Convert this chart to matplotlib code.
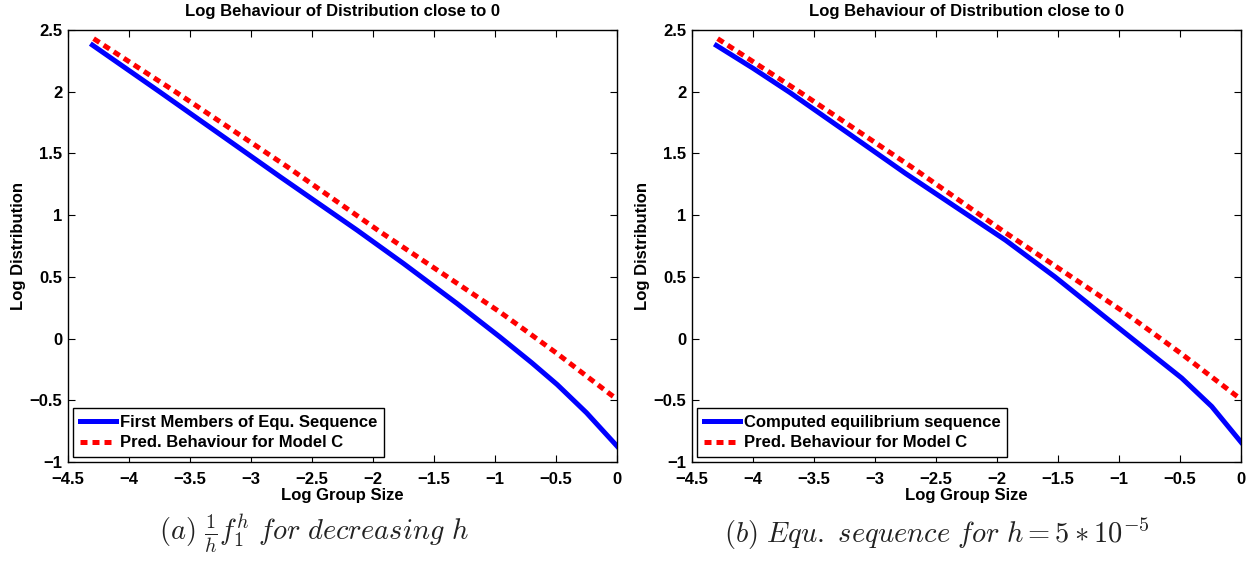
import matplotlib
matplotlib.use("Agg")
import matplotlib.pyplot as plt
from matplotlib.ticker import FuncFormatter

plt.rcParams["font.family"] = ["Liberation Sans", "DejaVu Sans"]
plt.rcParams["font.weight"] = "bold"
plt.rcParams["mathtext.fontset"] = "cm"

# values (log group size vs log distribution)
blue_a_x = [-4.30, -3.75, -3.20, -2.76, -2.13, -1.75, -1.31, -0.96, -0.70, -0.49, -0.25, 0.0]
blue_a_y = [2.378, 2.00, 1.617, 1.31, 0.878, 0.608, 0.283, 0.013, -0.195, -0.373, -0.601, -0.871]

blue_b_x = [-4.30, -4.00, -3.70, -3.20, -2.75, -1.93, -1.525, -1.115, -0.95, -0.486, -0.24, 0.0]
blue_b_y = [2.375, 2.19, 1.995, 1.65, 1.338, 0.797, 0.50, 0.175, 0.045, -0.32, -0.55, -0.839]

red_x = [-4.29, -3.62, -2.70, -1.94, -1.39, -0.96, -0.79, -0.49, -0.05, 0.0]
red_y = [2.43, 2.00, 1.39, 0.864, 0.50, 0.215, 0.094, -0.122, -0.455, -0.49]

panels = [
    (blue_a_x, blue_a_y, "First Members of Equ. Sequence",
     r"$(a)\ \frac{1}{h}f_1^h\ for\ decreasing\ h$", 314),
    (blue_b_x, blue_b_y, "Computed equilibrium sequence",
     r"$(b)\ Equ.\ sequence\ for\ h = 5*10^{-5}$", 937),
]

W, H = 1260, 563
fig = plt.figure(figsize=(W / 100, H / 100), dpi=100)
fmt = FuncFormatter(lambda v, p: ("%g" % v).replace("-", "\u2212"))

for i, (bx, by, blab, cap, capx) in enumerate(panels):
    left = (68 + i * 624) / W
    ax = fig.add_axes([left, 1 - 462 / H, 549 / W, 432 / H])
    ax.plot(bx, by, color="blue", lw=3.6, label=blab)
    ax.plot(red_x, red_y, color="red", lw=3.6, ls=(0, (1.4, 1.0)),
            label="Pred. Behaviour for Model C")
    ax.set_xlim(-4.5, 0)
    ax.set_ylim(-1, 2.5)
    ax.set_xticks([-4.5 + 0.5 * k for k in range(10)])
    ax.set_yticks([-1 + 0.5 * k for k in range(8)])
    ax.xaxis.set_major_formatter(fmt)
    ax.yaxis.set_major_formatter(fmt)
    ax.tick_params(direction="in", top=True, right=True, length=5,
                   labelsize=12)
    ax.tick_params(axis="x", pad=7)
    ax.tick_params(axis="y", pad=4)
    for s in ax.spines.values():
        s.set_linewidth(1.0)
    ax.set_title("Log Behaviour of Distribution close to 0", fontsize=12,
                 fontweight="bold", pad=10)
    ax.set_xlabel("Log Group Size", fontsize=12, fontweight="bold", labelpad=1)
    ax.set_ylabel("Log Distribution", fontsize=12, fontweight="bold", labelpad=3)
    leg = ax.legend(loc="lower left", fontsize=12, fancybox=False,
                    edgecolor="black", framealpha=1, borderaxespad=0.3,
                    handlelength=2.2, handletextpad=0.2, borderpad=0.4,
                    labelspacing=0.35)
    leg.get_frame().set_linewidth(1.0)
    fig.text(capx / W, 1 - 534 / H, cap, fontsize=20.5, ha="center",
             va="center", color="#222222")

plt.savefig("out.png", dpi=100, facecolor="white")
